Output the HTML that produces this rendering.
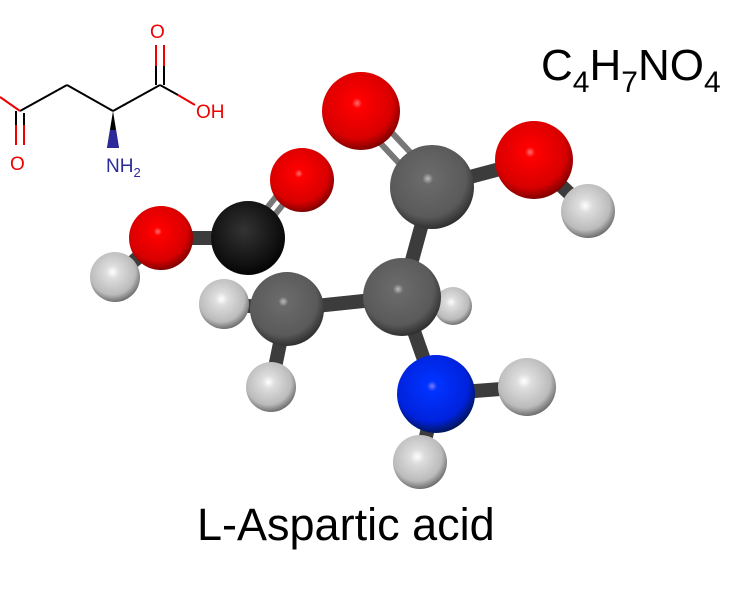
<!DOCTYPE html>
<html><head><meta charset="utf-8"><style>
body{margin:0;background:#fff;width:730px;height:600px;overflow:hidden;font-family:"Liberation Sans",sans-serif}
</style></head><body>
<svg width="730" height="600" viewBox="0 0 730 600" xmlns="http://www.w3.org/2000/svg">
<defs>
<radialGradient id="r" cx="0.45" cy="0.4" r="0.65"><stop offset="0" stop-color="#ff7070"/><stop offset="0.1" stop-color="#f00"/><stop offset="0.7" stop-color="#d80000"/><stop offset="1" stop-color="#600"/></radialGradient>
<radialGradient id="g" cx="0.45" cy="0.4" r="0.65"><stop offset="0" stop-color="#bbb"/><stop offset="0.1" stop-color="#6a6a6a"/><stop offset="0.7" stop-color="#5a5a5a"/><stop offset="1" stop-color="#222"/></radialGradient>
<radialGradient id="k" cx="0.45" cy="0.4" r="0.65"><stop offset="0" stop-color="#333"/><stop offset="0.7" stop-color="#111"/><stop offset="1" stop-color="#000"/></radialGradient>
<radialGradient id="w" cx="0.45" cy="0.4" r="0.65"><stop offset="0" stop-color="#fff"/><stop offset="0.2" stop-color="#ddd"/><stop offset="0.7" stop-color="#bbb"/><stop offset="1" stop-color="#555"/></radialGradient>
<radialGradient id="b" cx="0.45" cy="0.4" r="0.65"><stop offset="0" stop-color="#7a7aff"/><stop offset="0.1" stop-color="#03f"/><stop offset="0.7" stop-color="#02d"/><stop offset="1" stop-color="#013"/></radialGradient>
</defs>
<g stroke="#000" stroke-width="2" fill="none">
<line x1="20" y1="111" x2="67" y2="85"/><line x1="67" y1="85" x2="113" y2="111"/><line x1="113" y1="111" x2="160" y2="85"/>
</g>
<g stroke="#e00" stroke-width="2"><line x1="0" y1="97" x2="20" y2="111"/><line x1="16" y1="125" x2="16" y2="145"/><line x1="24" y1="125" x2="24" y2="145"/>
<line x1="156" y1="45" x2="156" y2="66"/><line x1="164" y1="45" x2="164" y2="66"/><line x1="178" y1="95" x2="195" y2="105"/></g>
<g stroke="#000" stroke-width="2"><line x1="16" y1="111" x2="16" y2="125"/><line x1="24" y1="113" x2="24" y2="125"/><line x1="156" y1="66" x2="156" y2="85"/><line x1="164" y1="66" x2="164" y2="85"/><line x1="160" y1="85" x2="178" y2="95"/></g>
<polygon points="113,111 107,148 119,148" fill="#000"/><polygon points="110,130 107,148 119,148 116,130" fill="#2a2a9a"/>
<g font-size="19" fill="#e00"><text x="150" y="38">O</text><text x="10" y="170">O</text><text x="196" y="118">OH</text></g>
<text x="106" y="172" font-size="19" fill="#2a2a9a">NH<tspan font-size="13" dy="5">2</tspan></text>
<text x="541" y="80" font-size="44" fill="#000">C<tspan font-size="30" dy="12">4</tspan><tspan dy="-12">H</tspan><tspan font-size="30" dy="12">7</tspan><tspan dy="-12">NO</tspan><tspan font-size="30" dy="12">4</tspan></text>
<text x="197" y="540" font-size="45" fill="#000">L-Aspartic acid</text>
<g stroke="#3c3c3c" stroke-width="14" stroke-linecap="round">
<line x1="248" y1="238" x2="296" y2="178" stroke="#777" stroke-width="6" transform="translate(-5,0)"/>
<line x1="248" y1="238" x2="296" y2="178" stroke="#777" stroke-width="6" transform="translate(5,4)"/>
<line x1="161" y1="238" x2="248" y2="238"/>
<line x1="115" y1="277" x2="161" y2="238"/>
<line x1="224" y1="304" x2="287" y2="309"/>
<line x1="271" y1="387" x2="287" y2="309"/>
<line x1="287" y1="309" x2="402" y2="297"/>
<line x1="402" y1="297" x2="453" y2="306"/>
<line x1="402" y1="297" x2="432" y2="187"/>
<line x1="432" y1="187" x2="534" y2="160"/>
<line x1="534" y1="160" x2="588" y2="211"/>
<line x1="402" y1="297" x2="436" y2="394"/>
<line x1="436" y1="394" x2="527" y2="387"/>
<line x1="436" y1="394" x2="420" y2="462"/>
<line x1="361" y1="111" x2="432" y2="187" stroke="#777" stroke-width="6" transform="translate(-6,5)"/>
<line x1="361" y1="111" x2="432" y2="187" stroke="#777" stroke-width="6" transform="translate(6,-5)"/>
</g>
<circle cx="302" cy="180" r="32" fill="url(#r)"/>
<circle cx="453" cy="306" r="19" fill="url(#w)"/>
<circle cx="115" cy="277" r="25" fill="url(#w)"/>
<circle cx="161" cy="238" r="32" fill="url(#r)"/>
<circle cx="248" cy="238" r="37" fill="url(#k)"/>
<circle cx="224" cy="304" r="25" fill="url(#w)"/>
<circle cx="287" cy="309" r="37" fill="url(#g)"/>
<circle cx="271" cy="387" r="25" fill="url(#w)"/>
<circle cx="361" cy="111" r="39" fill="url(#r)"/>
<circle cx="588" cy="211" r="27" fill="url(#w)"/>
<circle cx="534" cy="160" r="39" fill="url(#r)"/>
<circle cx="432" cy="187" r="42" fill="url(#g)"/>
<circle cx="402" cy="297" r="39" fill="url(#g)"/>
<circle cx="527" cy="387" r="29" fill="url(#w)"/>
<circle cx="420" cy="462" r="27" fill="url(#w)"/>
<circle cx="436" cy="394" r="39" fill="url(#b)"/>
</svg>
</body></html>
